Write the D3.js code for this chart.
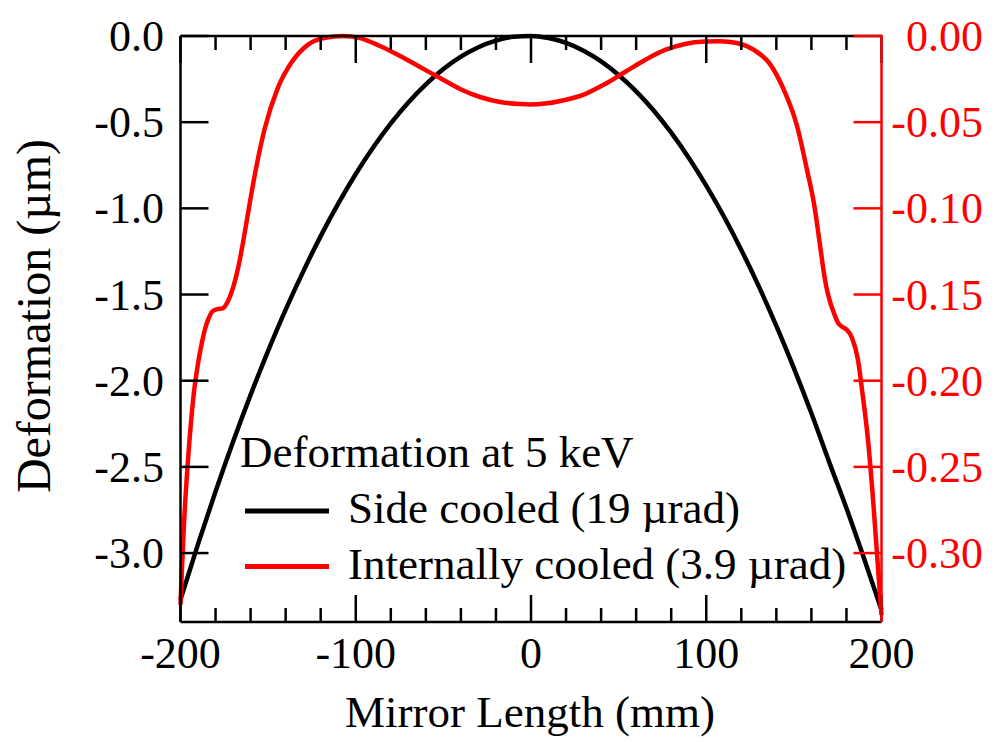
<!DOCTYPE html>
<html><head><meta charset="utf-8">
<script src="https://cdn.jsdelivr.net/npm/d3@7"></script>
<style>
html,body{margin:0;padding:0;background:#fff;}
</style></head>
<body><svg id="chart" width="1000" height="742" font-family="'Liberation Serif', 'Times New Roman', Times, serif"></svg>
<script>
// ---- data ----
const sideX = [-200,-190,-180,-170,-160,-150,-140,-130,-120,-110,-100,-90,-80,-70,-60,-50,-40,-30,-20,-10,0,10,20,30,40,50,60,70,80,90,100,110,120,130,140,150,160,170,180,190,200];
const sideY = [-3.27,-2.948,-2.643,-2.354,-2.082,-1.827,-1.588,-1.367,-1.161,-0.973,-0.801,-0.646,-0.507,-0.386,-0.281,-0.192,-0.120,-0.065,-0.027,-0.005,0.0,-0.012,-0.040,-0.085,-0.147,-0.226,-0.321,-0.432,-0.561,-0.706,-0.868,-1.046,-1.241,-1.453,-1.682,-1.927,-2.189,-2.468,-2.74,-3.03,-3.33];
const intX = [-200,-199,-198,-196,-194,-192,-190,-188,-186,-184,-182,-179,-176,-173,-170,-167,-164,-161,-157.5,-152,-144.4,-136.4,-127.2,-117.5,-107.3,-97.6,-86.2,-74.7,-63.3,-51.9,-40.5,-29.1,-17.7,-6.3,-0.6,8.0,19.4,30.8,42.2,53.6,65.1,76.5,87.9,99.3,107.8,117.5,127.2,136.3,144.3,151.8,157.5,162.0,164.9,167.8,169.5,173.5,175.2,178.0,180.3,183.2,186.6,188.9,192.3,195.2,198.1,200];
const intY = [-0.330,-0.305,-0.283,-0.250,-0.224,-0.204,-0.190,-0.179,-0.170,-0.164,-0.160,-0.1585,-0.158,-0.154,-0.146,-0.134,-0.118,-0.100,-0.080,-0.054,-0.030,-0.015,-0.005,-0.001,0.0,-0.0012,-0.0058,-0.0116,-0.018,-0.0244,-0.0307,-0.0354,-0.0383,-0.0395,-0.0397,-0.0392,-0.0371,-0.0337,-0.0279,-0.0209,-0.0139,-0.0081,-0.0046,-0.0032,-0.0030,-0.0041,-0.0081,-0.0162,-0.0313,-0.0522,-0.0777,-0.1004,-0.1213,-0.1416,-0.150,-0.1625,-0.1665,-0.169,-0.1706,-0.1752,-0.188,-0.2054,-0.2344,-0.2692,-0.3098,-0.336];
const xTicks = [-200,-100,0,100,200];
const xMinor = [-180,-160,-140,-120,-80,-60,-40,-20,20,40,60,80,120,140,160,180];
const yLeftTicks = [0,-0.5,-1.0,-1.5,-2.0,-2.5,-3.0];
const yRightTicks = [0,-0.05,-0.10,-0.15,-0.20,-0.25,-0.30];
const legendTitle = "Deformation at 5 keV";
const seriesNames = ["Side cooled (19 \u00b5rad)","Internally cooled (3.9 \u00b5rad)"];
const seriesColors = ["#000000","#ff0000"];

// ---- layout ----
const L=180.5, R=881.5, T=36, B=622;
const svg = d3.select("#chart");
const x = d3.scaleLinear().domain([-200,200]).range([L,R]);
const yL = d3.scaleLinear().domain([-3.4,0]).range([B,T]);
const yR = d3.scaleLinear().domain([-0.34,0]).range([B,T]);
const tickFont = 44;

// data lines
const lineL = d3.line().x((d,i)=>x(sideX[i])).y(d=>yL(d)).curve(d3.curveMonotoneX);
const lineR = d3.line().x((d,i)=>x(intX[i])).y(d=>yR(d)).curve(d3.curveMonotoneX);
svg.append("path").attr("d",lineL(sideY)).attr("fill","none").attr("stroke",seriesColors[0]).attr("stroke-width",4.5);
svg.append("path").attr("d",lineR(intY)).attr("fill","none").attr("stroke",seriesColors[1]).attr("stroke-width",4.5);

// frame
const fr = svg.append("g").attr("stroke","#000").attr("stroke-width",2.5).attr("fill","none");
fr.append("line").attr("x1",L).attr("x2",R).attr("y1",B).attr("y2",B);
fr.append("line").attr("x1",L).attr("x2",R).attr("y1",T).attr("y2",T);
fr.append("line").attr("x1",L).attr("x2",L).attr("y1",T).attr("y2",B);

// x ticks (bottom & top, inward)
xMinor.forEach(v=>{
  fr.append("line").attr("x1",x(v)).attr("x2",x(v)).attr("y1",B).attr("y2",B-14);
  fr.append("line").attr("x1",x(v)).attr("x2",x(v)).attr("y1",T).attr("y2",T+14);
});
xTicks.forEach(v=>{
  fr.append("line").attr("x1",x(v)).attr("x2",x(v)).attr("y1",B).attr("y2",B-27);
  fr.append("line").attr("x1",x(v)).attr("x2",x(v)).attr("y1",T).attr("y2",T+27);
  svg.append("text").attr("x",x(v)).attr("y",668).attr("text-anchor","middle")
    .attr("font-size",tickFont).text(v);
});

// left ticks
yLeftTicks.forEach(v=>{
  fr.append("line").attr("x1",L).attr("x2",L+28).attr("y1",yL(v)).attr("y2",yL(v));
  svg.append("text").attr("x",164).attr("y",yL(v)+15).attr("text-anchor","end")
    .attr("font-size",tickFont).text(d3.format(".1f")(v).replace("\u2212","-"));
});
// right axis (red)
const rg = svg.append("g").attr("stroke","#ff0000").attr("stroke-width",2.5);
rg.append("line").attr("x1",R).attr("x2",R).attr("y1",T-1.2).attr("y2",B);
yRightTicks.forEach(v=>{
  rg.append("line").attr("x1",R).attr("x2",R-28).attr("y1",yR(v)).attr("y2",yR(v));
  svg.append("text").attr("x",983).attr("y",yR(v)+15).attr("text-anchor","end")
    .attr("fill","#ff0000").attr("font-size",tickFont).text(d3.format(".2f")(v).replace("\u2212","-"));
});

// axis titles
svg.append("text").attr("x",530).attr("y",727).attr("text-anchor","middle").attr("font-size",45).text("Mirror Length (mm)");
svg.append("text").attr("transform","translate(50,316) rotate(-90)").attr("text-anchor","middle").attr("font-size",48).text("Deformation (\u00b5m)");

// legend
svg.append("text").attr("x",240).attr("y",467).attr("font-size",45).text(legendTitle);
seriesNames.forEach((n,i)=>{
  const yy = 511 + i*55.5;
  svg.append("line").attr("x1",245).attr("x2",329).attr("y1",yy).attr("y2",yy)
    .attr("stroke",seriesColors[i]).attr("stroke-width",5);
  svg.append("text").attr("x",348).attr("y",yy+12).attr("font-size",45).text(n);
});
</script></body></html>
